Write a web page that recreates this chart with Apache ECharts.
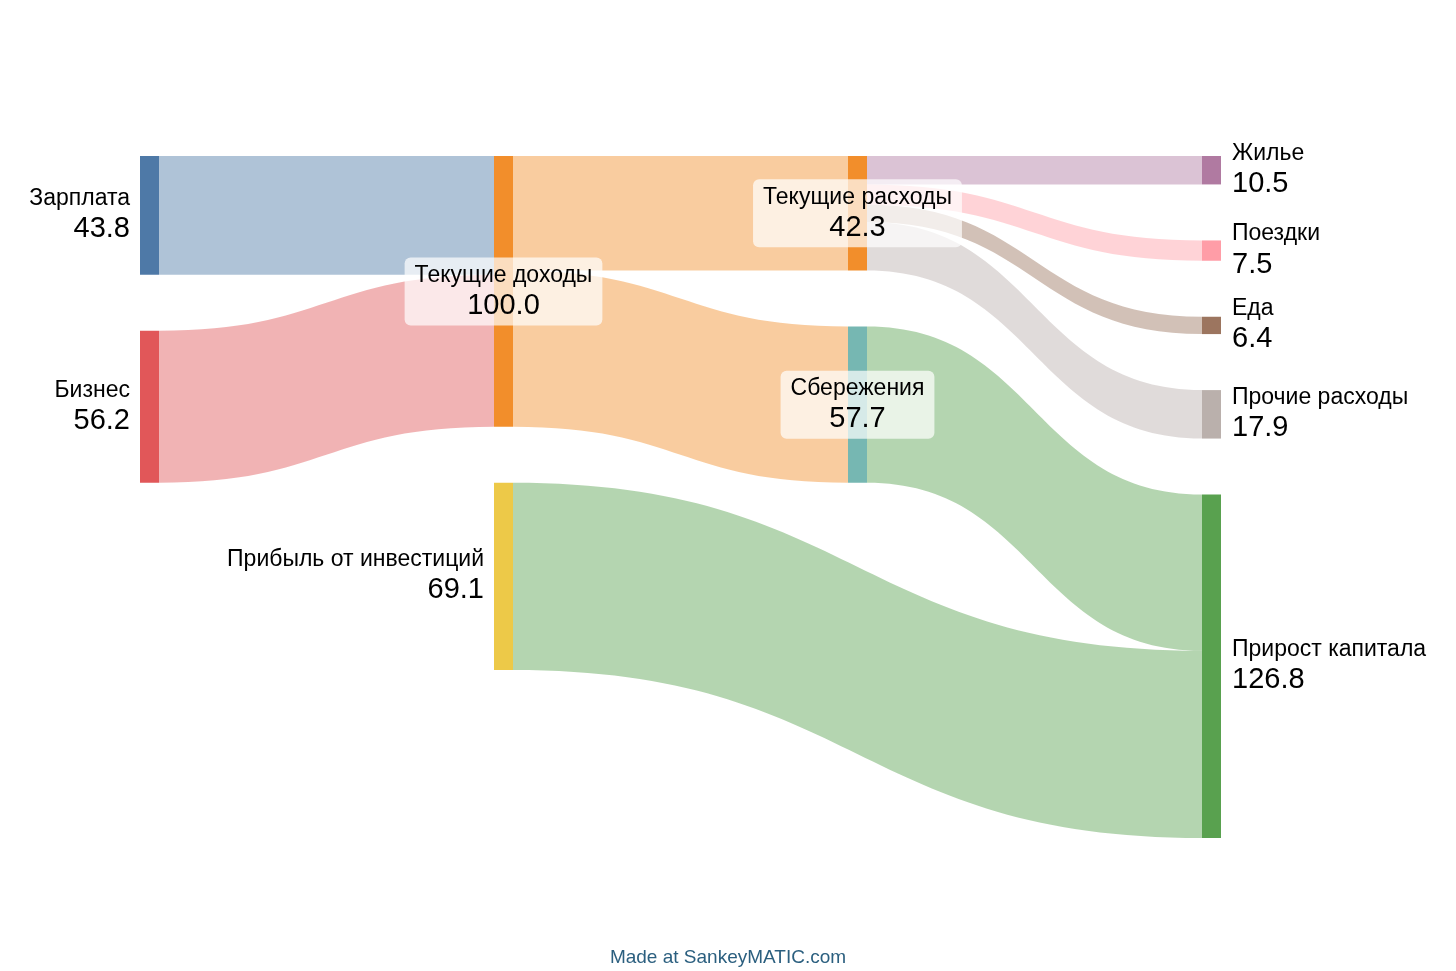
<!DOCTYPE html>
<html>
<head>
<meta charset="utf-8">
<script src="https://cdn.jsdelivr.net/npm/echarts@6/dist/echarts.min.js"></script>
<style>
html,body{margin:0;padding:0;background:#fff;}
#chart{width:1456px;height:971px;}
</style>
</head>
<body>
<div id="chart"></div>
<script>
// ---- data ----
const nodeNames = ['Зарплата', 'Бизнес', 'Текущие доходы', 'Прибыль от инвестиций',
  'Текущие расходы', 'Сбережения', 'Жилье', 'Поездки', 'Еда', 'Прочие расходы', 'Прирост капитала'];
const linkSources = ['Зарплата', 'Бизнес', 'Текущие доходы', 'Текущие доходы',
  'Текущие расходы', 'Текущие расходы', 'Текущие расходы', 'Текущие расходы',
  'Сбережения', 'Прибыль от инвестиций'];
const linkTargets = ['Текущие доходы', 'Текущие доходы', 'Текущие расходы', 'Сбережения',
  'Жилье', 'Поездки', 'Еда', 'Прочие расходы', 'Прирост капитала', 'Прирост капитала'];
const linkValues = [43.8, 56.2, 42.3, 57.7, 10.5, 7.5, 6.4, 17.9, 57.7, 69.1];

// ---- styles ----
const nodeColors = ['#4e79a7', '#e15759', '#f28e2b', '#edc948', '#f28e2b', '#76b7b2',
  '#b07aa1', '#ff9da7', '#9c755f', '#bab0ac', '#59a14f'];
const labelSide = ['left', 'left', 'inside', 'left', 'inside', 'inside',
  'right', 'right', 'right', 'right', 'right'];
const nodeDepthOverride = { 'Прибыль от инвестиций': 1 };
const linkColorBy = ['source', 'source', 'source', 'source',
  'target', 'target', 'target', 'target', 'target', 'target'];

function nodeValue(name) {
  let inSum = 0, outSum = 0;
  linkValues.forEach((v, i) => {
    if (linkTargets[i] === name) inSum += v;
    if (linkSources[i] === name) outSum += v;
  });
  return Math.round(Math.max(inSum, outSum) * 10) / 10;
}

const FONT = 'Liberation Sans, Arial, sans-serif';
const rich = {
  n: { fontSize: 23, lineHeight: 28, color: '#000', fontFamily: FONT },
  v: { fontSize: 29, lineHeight: 33, color: '#000', fontFamily: FONT }
};

function labelFor(side) {
  const mk = a => ({ n: Object.assign({ align: a }, rich.n), v: Object.assign({ align: a }, rich.v) });
  if (side === 'left') {
    return { position: 'left', distance: 10, align: 'right', rich: mk('right') };
  }
  if (side === 'right') {
    return { position: 'right', distance: 11, align: 'left', rich: mk('left') };
  }
  return { position: 'inside', align: 'center',
    backgroundColor: 'rgba(255,255,255,0.7)', borderRadius: 6, padding: [4, 10, 3, 10],
    rich: mk('center') };
}

const nodes = nodeNames.map((name, i) => {
  const item = {
    name: name,
    value: nodeValue(name),
    itemStyle: { color: nodeColors[i], opacity: 1, borderWidth: 0 },
    label: labelFor(labelSide[i])
  };
  if (nodeDepthOverride[name] !== undefined) item.depth = nodeDepthOverride[name];
  return item;
});

const links = linkValues.map((v, i) => ({
  source: linkSources[i],
  target: linkTargets[i],
  value: v,
  lineStyle: { color: linkColorBy[i], opacity: 0.45, curveness: 0.5 }
}));

const chart = echarts.init(document.getElementById('chart'), null, { renderer: 'canvas' });
chart.setOption({
  backgroundColor: '#fff',
  animation: false,
  title: {
    text: 'Made at SankeyMATIC.com',
    left: 'center',
    top: 943,
    textStyle: { color: '#2b5f7f', fontSize: 19, fontWeight: 'normal', fontFamily: FONT }
  },
  series: [{
    type: 'sankey',
    left: 140,
    right: 235,
    top: 156,
    bottom: 133,
    nodeWidth: 19,
    nodeGap: 56,
    nodeAlign: 'justify',
    layoutIterations: 0,
    draggable: false,
    emphasis: { disabled: true },
    label: {
      show: true,
      formatter: p => '{n|' + p.name + '}\n{v|' + Number(p.value).toFixed(1) + '}'
    },
    data: nodes,
    links: links
  }]
});
</script>
</body>
</html>
